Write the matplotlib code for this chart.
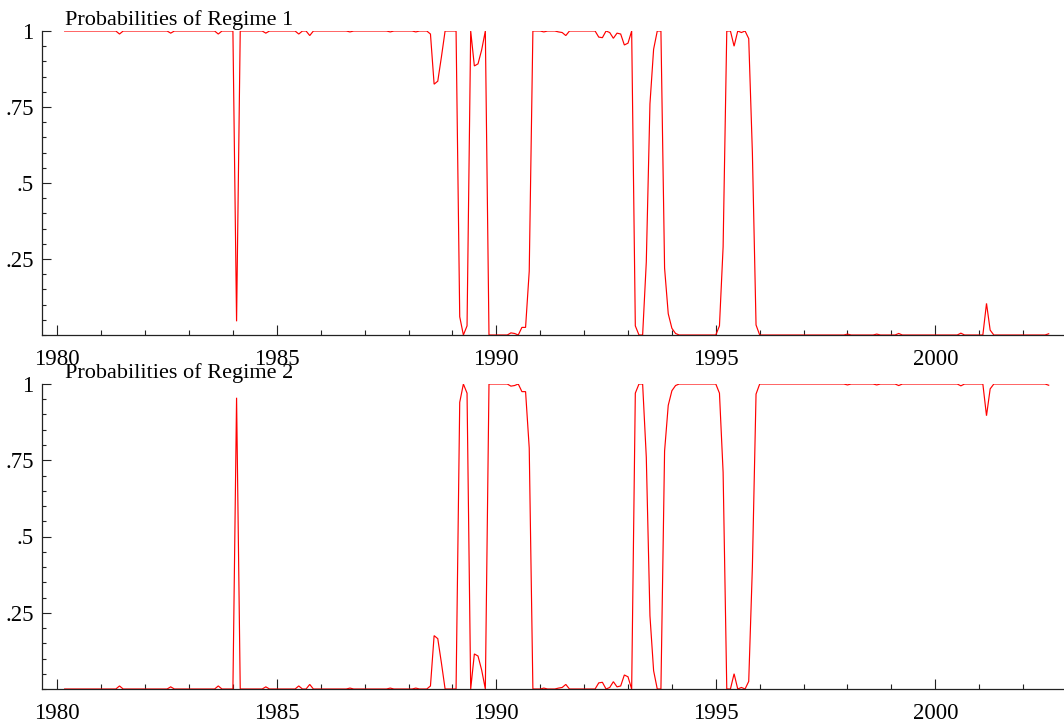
import matplotlib
matplotlib.use("Agg")
import matplotlib.pyplot as plt
import matplotlib.transforms as mtransforms
from matplotlib.ticker import FixedLocator, MultipleLocator, FixedFormatter
import numpy as np

plt.rcParams['font.family'] = ['Liberation Serif', 'DejaVu Serif']

# Monthly observations 1980(3) .. 2002(8)
start_year = 1980
start_month = 3

# Smoothed probabilities of regime 1, by calendar year
r1_1980 = [1, 1, 1, 1, 1, 1, 1, 1, 1, 1]
r1_1981 = [1, 1, 1, 1, 1, 0.99, 1, 1, 1, 1, 1, 1]
r1_1982 = [1, 1, 1, 1, 1, 1, 1, 0.993, 1, 1, 1, 1]
r1_1983 = [1, 1, 1, 1, 1, 1, 1, 1, 0.99, 1, 1, 1]
r1_1984 = [1, 0.045, 1, 1, 1, 1, 1, 1, 1, 0.993, 1, 1]
r1_1985 = [1, 1, 1, 1, 1, 1, 0.99, 1, 1, 0.985, 1, 1]
r1_1986 = [1, 1, 1, 1, 1, 1, 1, 1, 0.997, 1, 1, 1]
r1_1987 = [1, 1, 1, 1, 1, 1, 1, 0.997, 1, 1, 1, 1]
r1_1988 = [1, 1, 0.997, 1, 1, 1, 0.99, 0.825, 0.835, 0.915, 1, 1]
r1_1989 = [1, 1, 0.06, 0.0, 0.03, 1, 0.885, 0.892, 0.938, 1, 0, 0]
r1_1990 = [0, 0, 0, 0, 0.007, 0.005, 0, 0.025, 0.025, 0.21, 1, 1]
r1_1991 = [1, 0.997, 1, 1, 1, 0.997, 0.995, 0.985, 1, 1, 1, 1]
r1_1992 = [1, 1, 1, 1, 0.98, 0.978, 1, 0.995, 0.976, 0.993, 0.99, 0.954]
r1_1993 = [0.96, 1, 0.03, 0, 0, 0.24, 0.76, 0.94, 1, 1, 0.22, 0.07]
r1_1994 = [0.022, 0.005, 0, 0, 0, 0, 0, 0, 0, 0, 0, 0]
r1_1995 = [0, 0.03, 0.29, 1, 1, 0.95, 1, 0.995, 1, 0.975, 0.6, 0.033]
r1_1996 = [0, 0, 0, 0, 0, 0, 0, 0, 0, 0, 0, 0]
r1_1997 = [0, 0, 0, 0, 0, 0, 0, 0, 0, 0, 0, 0]
r1_1998 = [0.003, 0, 0, 0, 0, 0, 0, 0, 0.003, 0, 0, 0]
r1_1999 = [0, 0, 0.005, 0, 0, 0, 0, 0, 0, 0, 0, 0]
r1_2000 = [0, 0, 0, 0, 0, 0, 0, 0.006, 0, 0, 0, 0]
r1_2001 = [0, 0, 0.104, 0.016, 0, 0, 0, 0, 0, 0, 0, 0]
r1_2002 = [0, 0, 0, 0, 0, 0, 0, 0.004]

# Smoothed probabilities of regime 2, by calendar year
r2_1980 = [0, 0, 0, 0, 0, 0, 0, 0, 0, 0]
r2_1981 = [0, 0, 0, 0, 0, 0.01, 0, 0, 0, 0, 0, 0]
r2_1982 = [0, 0, 0, 0, 0, 0, 0, 0.007, 0, 0, 0, 0]
r2_1983 = [0, 0, 0, 0, 0, 0, 0, 0, 0.01, 0, 0, 0]
r2_1984 = [0, 0.955, 0, 0, 0, 0, 0, 0, 0, 0.007, 0, 0]
r2_1985 = [0, 0, 0, 0, 0, 0, 0.01, 0, 0, 0.015, 0, 0]
r2_1986 = [0, 0, 0, 0, 0, 0, 0, 0, 0.003, 0, 0, 0]
r2_1987 = [0, 0, 0, 0, 0, 0, 0, 0.003, 0, 0, 0, 0]
r2_1988 = [0, 0, 0.003, 0, 0, 0, 0.01, 0.175, 0.165, 0.085, 0, 0]
r2_1989 = [0, 0, 0.94, 1.0, 0.97, 0, 0.115, 0.108, 0.062, 0, 1, 1]
r2_1990 = [1, 1, 1, 1, 0.993, 0.995, 1, 0.975, 0.975, 0.79, 0, 0]
r2_1991 = [0, 0.003, 0, 0, 0, 0.003, 0.005, 0.015, 0, 0, 0, 0]
r2_1992 = [0, 0, 0, 0, 0.02, 0.022, 0, 0.005, 0.024, 0.007, 0.01, 0.046]
r2_1993 = [0.04, 0, 0.97, 1, 1, 0.76, 0.24, 0.06, 0, 0, 0.78, 0.93]
r2_1994 = [0.978, 0.995, 1, 1, 1, 1, 1, 1, 1, 1, 1, 1]
r2_1995 = [1, 0.97, 0.71, 0, 0, 0.05, 0, 0.005, 0, 0.025, 0.4, 0.967]
r2_1996 = [1, 1, 1, 1, 1, 1, 1, 1, 1, 1, 1, 1]
r2_1997 = [1, 1, 1, 1, 1, 1, 1, 1, 1, 1, 1, 1]
r2_1998 = [0.997, 1, 1, 1, 1, 1, 1, 1, 0.997, 1, 1, 1]
r2_1999 = [1, 1, 0.995, 1, 1, 1, 1, 1, 1, 1, 1, 1]
r2_2000 = [1, 1, 1, 1, 1, 1, 1, 0.994, 1, 1, 1, 1]
r2_2001 = [1, 1, 0.896, 0.984, 1, 1, 1, 1, 1, 1, 1, 1]
r2_2002 = [1, 1, 1, 1, 1, 1, 1, 0.996]

regime1 = np.concatenate([r1_1980, r1_1981, r1_1982, r1_1983, r1_1984, r1_1985,
                          r1_1986, r1_1987, r1_1988, r1_1989, r1_1990, r1_1991,
                          r1_1992, r1_1993, r1_1994, r1_1995, r1_1996, r1_1997,
                          r1_1998, r1_1999, r1_2000, r1_2001, r1_2002])
regime2 = np.concatenate([r2_1980, r2_1981, r2_1982, r2_1983, r2_1984, r2_1985,
                          r2_1986, r2_1987, r2_1988, r2_1989, r2_1990, r2_1991,
                          r2_1992, r2_1993, r2_1994, r2_1995, r2_1996, r2_1997,
                          r2_1998, r2_1999, r2_2000, r2_2001, r2_2002])

dates = start_year + (start_month - 1 + np.arange(len(regime1))) / 12.0

titles = ["Probabilities of Regime 1", "Probabilities of Regime 2"]
xtick_years = [1980, 1985, 1990, 1995, 2000]
ytick_vals = [0.25, 0.5, 0.75, 1.0]
ytick_labels = [".25", ".5", ".75", "1"]

fig = plt.figure(figsize=(10.64, 7.27), dpi=100)
W, H = 1064.0, 727.0
boxes = [(42, 31, 335), (42, 384, 689)]  # left, top px, bottom px

for k, (series, title) in enumerate(zip([regime1, regime2], titles)):
    left, top, bot = boxes[k]
    ax = fig.add_axes([left / W, 1 - bot / H, (W - left) / W, (bot - top) / H])
    ax.plot(dates, series, color='#ff0000', lw=0.85, solid_joinstyle='miter')
    ax.set_xlim(1979.651, 2002.932)
    ax.set_ylim(0, 1)
    for s in ['top', 'right']:
        ax.spines[s].set_visible(False)
    for s in ['left', 'bottom']:
        ax.spines[s].set_linewidth(0.9)
        ax.spines[s].set_color('#222222')
    ax.xaxis.set_major_locator(FixedLocator(xtick_years))
    ax.xaxis.set_major_formatter(FixedFormatter([str(y) for y in xtick_years]))
    ax.xaxis.set_minor_locator(MultipleLocator(1))
    ax.yaxis.set_major_locator(FixedLocator(ytick_vals))
    ax.yaxis.set_major_formatter(FixedFormatter(ytick_labels))
    ax.yaxis.set_minor_locator(MultipleLocator(0.05))
    ax.tick_params(axis='x', which='major', direction='in', length=7.2, width=0.8,
                   labelsize=16.5, pad=10, color='#222222')
    ax.tick_params(axis='x', which='minor', direction='in', length=3.6, width=0.8,
                   color='#222222')
    ax.tick_params(axis='y', which='major', direction='in', length=6.5, width=0.8,
                   labelsize=16.5, pad=6, color='#222222')
    ax.tick_params(axis='y', which='minor', direction='in', length=3.2, width=0.8,
                   color='#222222')
    trans = mtransforms.blended_transform_factory(ax.transData, ax.transAxes)
    ax.text(1980.175, 1.02, title, transform=trans, ha='left', va='baseline',
            fontsize=16, clip_on=False)

fig.savefig("out.png", dpi=100)
